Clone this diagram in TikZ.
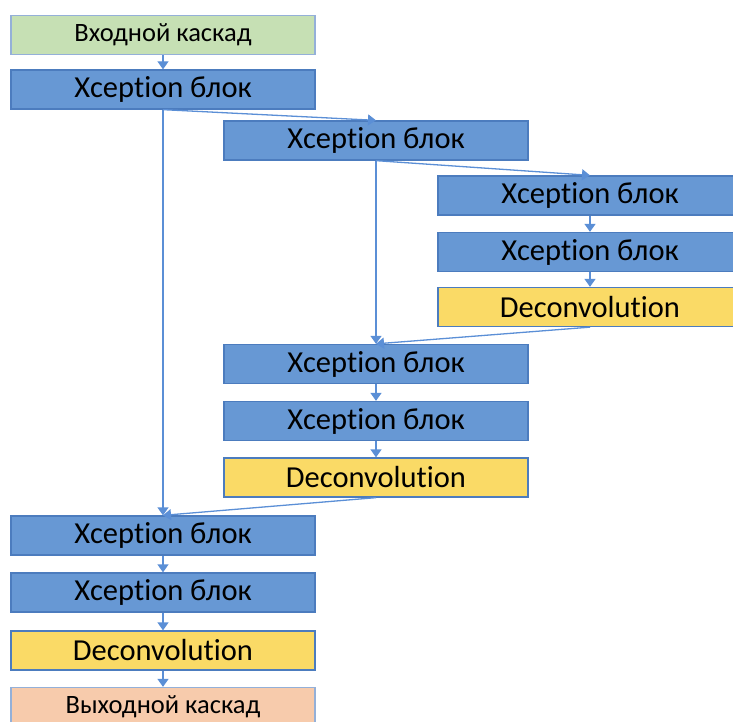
\documentclass[tikz,border=0pt]{standalone}
\usepackage{fontspec}
\setmainfont{Carlito}[Ligatures={NoCommon}]
\usetikzlibrary{arrows.meta}
\definecolor{bfill}{HTML}{6798D4}
\definecolor{bdraw}{HTML}{4C7CBE}
\definecolor{gfill}{HTML}{C6E0B4}
\definecolor{yfill}{HTML}{FADA66}
\definecolor{ofill}{HTML}{F7CBAC}
\definecolor{arrc}{HTML}{5B8FD6}
\tikzset{
  box/.style={draw=bdraw, line width=1.3pt, minimum width=304pt, minimum height=39pt, inner sep=0pt, font=\fontsize{30.5}{32}\selectfont, text=black},
  xblk/.style={box, fill=bfill},
  dblk/.style={box, fill=yfill},
  inblk/.style={box, fill=gfill, draw=bdraw!60, font=\fontsize{26.5}{28}\selectfont},
  outblk/.style={box, fill=ofill, draw=bdraw!60, font=\fontsize{26.5}{28}\selectfont},
  arr/.style={draw=arrc, line width=1.3pt, -{Triangle[width=11pt,length=8pt]}}
}
\begin{document}
\begin{tikzpicture}[x=1pt,y=-1pt]
\useasboundingbox (0,0) rectangle (733,722);
\clip (0,0) rectangle (733,722);
% column A (center 163), B (376), C (590)
\node[inblk] (in) at (163,35) {Входной каскад};
\node[xblk] (a1) at (163,89.5) {Xception блок};
\node[xblk] (b1) at (376,140.5) {Xception блок};
\node[xblk] (c1) at (590,195.5) {Xception блок};
\node[xblk] (c2) at (590,252) {Xception блок};
\node[dblk] (c3) at (590,307) {Deconvolution};
\node[xblk] (b2) at (376,364) {Xception блок};
\node[xblk] (b3) at (376,421) {Xception блок};
\node[dblk] (b4) at (376,477.5) {Deconvolution};
\node[xblk] (a2) at (163,535.5) {Xception блок};
\node[xblk] (a3) at (163,592.5) {Xception блок};
\node[dblk] (a4) at (163,650.5) {Deconvolution};
\node[outblk] (out) at (163,707) {Выходной каскад};
\draw[arr] (in) -- (a1);
\draw[arr] (a1.south) -- (b1.north);
\draw[arr] (a1.south) -- (a2.north);
\draw[arr] (b1.south) -- (c1.north);
\draw[arr] (b1.south) -- (b2.north);
\draw[arr] (c1) -- (c2);
\draw[arr] (c2) -- (c3);
\draw[arr] (c3.south) -- (b2.north);
\draw[arr] (b2) -- (b3);
\draw[arr] (b3) -- (b4);
\draw[arr] (b4.south) -- (a2.north);
\draw[arr] (a2) -- (a3);
\draw[arr] (a3) -- (a4);
\draw[arr] (a4) -- (out);
\end{tikzpicture}
\end{document}
